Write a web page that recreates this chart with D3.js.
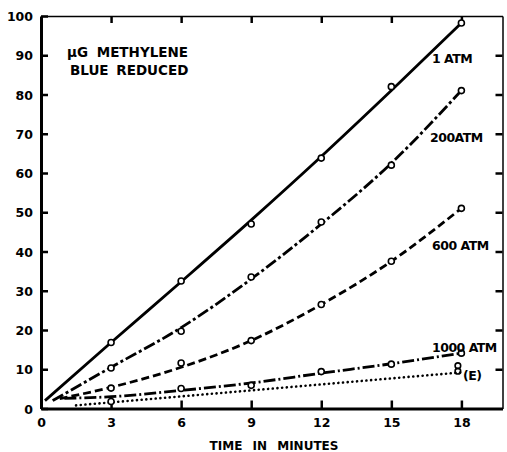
<!DOCTYPE html>
<html>
<head>
<meta charset="utf-8">
<script src="https://cdn.jsdelivr.net/npm/d3@7"></script>
<style>
  body { margin: 0; background: #fff; }
  text { font-family: "DejaVu Sans", sans-serif; font-weight: bold; fill: #000; }
</style>
</head>
<body>
<script>
var w = 507;
var h = 452;

// times (minutes) at which readings were taken
var times = [3, 6, 9, 12, 15, 18];

// measured points, ug methylene blue reduced
var atm1 = [16.8, 32.5, 47, 63.8, 82, 98.2];
var atm200 = [10.3, 19.7, 33.5, 47.5, 62, 81];
var atm600 = [5.2, 11.6, 17.3, 26.5, 37.5, 51];
var atm1000 = [1.8, 5.1, 5.9, 9.4, 11.3, 14.1];
var pointsE = [[17.85, 9.5], [17.85, 10.9]];

// smooth curves as drawn (start of each curve, then values at the times above)
var curveStart = { a1: [0.17, 2], a200: [0.5, 2], a600: [0.8, 2.5], a1000: [1.0, 2.6] };
var curve1 = [16.8, 32.3, 48, 64.2, 81, 98.2];
var curve200 = [10.5, 20.6, 33, 47, 62.5, 81];
var curve600 = [5.4, 10.5, 17.3, 26.5, 37.5, 51];
var curve1000 = [3, 4.6, 6.5, 9, 11.4, 14.1];
var curveE = [[1.5, 0.8], [18, 9.2]];

var xTicks = [0, 3, 6, 9, 12, 15, 18];
var yTicks = [0, 10, 20, 30, 40, 50, 60, 70, 80, 90, 100];

var x = d3.scaleLinear().domain([0, 19.76]).range([41, 502.5]);
var y = d3.scaleLinear().domain([0, 100]).range([408.5, 16]);

var svg = d3.select('body').append('svg')
  .attr('width', w)
  .attr('height', h);

// frame: thin top and right edges with inward ticks
svg.append('g')
  .attr('transform', 'translate(0,' + y(100) + ')')
  .call(d3.axisTop(x).tickValues([3, 6, 9, 12, 15, 18]).tickSizeInner(-7).tickSizeOuter(0).tickFormat(''))
  .call(g => g.select('.domain').attr('stroke-width', 1.5))
  .call(g => g.selectAll('.tick line').attr('stroke-width', 2.5));

svg.append('g')
  .attr('transform', 'translate(' + x(19.76) + ',0)')
  .call(d3.axisRight(y).tickValues([10, 20, 30, 40, 50, 60, 70, 80, 90]).tickSizeInner(-7).tickSizeOuter(0).tickFormat(''))
  .call(g => g.select('.domain').attr('stroke-width', 1.5))
  .call(g => g.selectAll('.tick line').attr('stroke-width', 2.5));

// left and bottom axes, heavy
svg.append('g')
  .attr('transform', 'translate(' + x(0) + ',0)')
  .call(d3.axisLeft(y).tickValues(yTicks).tickSizeInner(-7).tickSizeOuter(0).tickPadding(8))
  .call(g => g.select('.domain').attr('stroke-width', 3))
  .call(g => g.selectAll('.tick line').attr('stroke-width', 2.5))
  .call(g => g.selectAll('.tick text').attr('font-size', 12.5).attr('font-family', null).attr('dy', '0.36em'));

svg.append('g')
  .attr('transform', 'translate(0,' + y(0) + ')')
  .call(d3.axisBottom(x).tickValues(xTicks).tickSizeInner(-8).tickSizeOuter(0).tickPadding(10))
  .call(g => g.select('.domain').attr('stroke-width', 3))
  .call(g => g.selectAll('.tick line').attr('stroke-width', 2.5))
  .call(g => g.selectAll('.tick text').attr('font-size', 12.5).attr('font-family', null));

svg.append('text')
  .attr('x', 274)
  .attr('y', 450)
  .attr('text-anchor', 'middle')
  .attr('font-size', 12)
  .attr('word-spacing', 6)
  .text('TIME IN MINUTES');

svg.append('text').attr('x', 67).attr('y', 57).attr('font-size', 13.5).attr('word-spacing', 4).text('µG METHYLENE');
svg.append('text').attr('x', 70).attr('y', 75).attr('font-size', 13.5).attr('word-spacing', 3).text('BLUE REDUCED');

var line = d3.line()
  .x(d => x(d[0]))
  .y(d => y(d[1]))
  .curve(d3.curveMonotoneX);

var withStart = (start, vals) => [start].concat(vals.map((v, i) => [times[i], v]));

var series = [
  { curve: withStart(curveStart.a1, curve1), pts: atm1, dash: null },
  { curve: withStart(curveStart.a200, curve200), pts: atm200, dash: '12,3,3,3' },
  { curve: withStart(curveStart.a600, curve600), pts: atm600, dash: '8,4' },
  { curve: withStart(curveStart.a1000, curve1000), pts: atm1000, dash: '12,3,2,3' }
];

series.forEach(s => {
  svg.append('path')
    .attr('d', line(s.curve))
    .attr('fill', 'none')
    .attr('stroke', '#000')
    .attr('stroke-width', 2.8)
    .attr('stroke-dasharray', s.dash);
});

svg.append('path')
  .attr('d', line(curveE))
  .attr('fill', 'none')
  .attr('stroke', '#000')
  .attr('stroke-width', 2.6)
  .attr('stroke-linecap', 'round')
  .attr('stroke-dasharray', '0.1,4.6');

series.forEach(s => {
  svg.append('g').selectAll('circle')
    .data(s.pts.map((v, i) => [times[i], v]))
    .join('circle')
    .attr('cx', d => x(d[0]))
    .attr('cy', d => y(d[1]))
    .attr('r', 3)
    .attr('fill', '#fff')
    .attr('stroke', '#000')
    .attr('stroke-width', 1.6);
});

svg.append('g').selectAll('circle')
  .data(pointsE)
  .join('circle')
  .attr('cx', d => x(d[0]))
  .attr('cy', d => y(d[1]))
  .attr('r', 2.8)
  .attr('fill', 'none')
  .attr('stroke', '#000')
  .attr('stroke-width', 1.6);

// curve labels
var labels = [
  { text: '1 ATM', x: 432, y: 63 },
  { text: '200ATM', x: 430, y: 142 },
  { text: '600 ATM', x: 432, y: 250 },
  { text: '1000 ATM', x: 432, y: 352 },
  { text: '(E)', x: 463, y: 380 }
];

svg.append('g').selectAll('text')
  .data(labels)
  .join('text')
  .attr('x', d => d.x)
  .attr('y', d => d.y)
  .attr('font-size', 12.5)
  .attr('letter-spacing', -0.5)
  .text(d => d.text);
</script>
</body>
</html>
